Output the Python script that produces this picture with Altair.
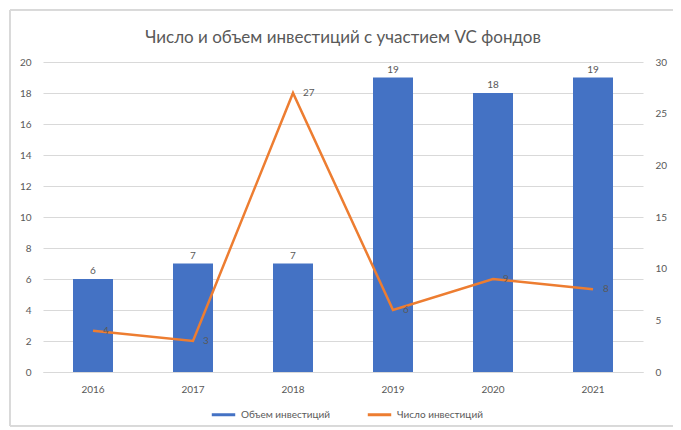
import altair as alt
import pandas as pd

years = ["2016", "2017", "2018", "2019", "2020", "2021"]
volume = [6, 7, 7, 19, 18, 19]
count = [4, 3, 27, 6, 9, 8]
vol_name = "Объем инвестиций"
cnt_name = "Число инвестиций"

df = pd.DataFrame({"year": years, "volume": volume, "count": count,
                   "s_vol": [vol_name] * len(years), "s_cnt": [cnt_name] * len(years)})

FONT = "Lato"
GRAY = "#595959"

x = alt.X("year:N", title=None, sort=years,
          scale=alt.Scale(paddingInner=0.6, paddingOuter=0.3),
          axis=alt.Axis(labelAngle=0, labelColor=GRAY, labelFont=FONT, labelFontSize=10,
                        ticks=False, domainColor="#d9d9d9", labelPadding=12))

cscale = alt.Scale(domain=[vol_name, cnt_name], range=["#4472C4", "#ED7D31"])
clegend = alt.Legend(orient="none", legendX=167, legendY=339, direction="horizontal",
                     symbolType="stroke", symbolSize=550, symbolStrokeWidth=3,
                     labelFont=FONT, labelFontSize=10, labelColor=GRAY,
                     columnPadding=30, symbolOpacity=1)

left_ticks = [0, 2, 4, 6, 8, 10, 12, 14, 16, 18, 20]
right_ticks = [0, 5, 10, 15, 20, 25, 30]

left_axis = alt.Axis(values=left_ticks, labelColor=GRAY, labelFont=FONT,
                     labelFontSize=10, ticks=False, domain=False, gridColor="#d9d9d9",
                     labelPadding=12, labelOverlap=False, labelFlush=False)
right_axis = alt.Axis(orient="right", values=right_ticks, labelColor=GRAY,
                      labelFont=FONT, labelFontSize=10, ticks=False, domain=False,
                      grid=False, labelPadding=12, labelOverlap=False, labelFlush=False)

lscale = alt.Scale(domain=[0, 20], nice=False)
rscale = alt.Scale(domain=[0, 30], nice=False)

base = alt.Chart(df)

frame = base.mark_rect(fill=None, stroke="#d9d9d9", strokeWidth=1).encode(
    x=alt.value(-33), x2=alt.value(635), y=alt.value(-52), y2=alt.value(364))

bars = base.mark_bar().encode(
    x=x,
    y=alt.Y("volume:Q", title=None, scale=lscale, axis=left_axis),
    color=alt.Color("s_vol:N", scale=cscale, legend=clegend, title=None),
)
bar_text = base.mark_text(dy=-8, color=GRAY, font=FONT, fontSize=10).encode(
    x=x, y=alt.Y("volume:Q", scale=lscale, axis=None), text="volume:Q")

line = base.mark_line(strokeWidth=2.5).encode(
    x=x,
    y=alt.Y("count:Q", title=None, scale=rscale, axis=right_axis),
    color=alt.Color("s_cnt:N", scale=cscale, legend=clegend, title=None),
)
line_text = base.mark_text(dx=10, align="left", color=GRAY, font=FONT, fontSize=10).encode(
    x=x, y=alt.Y("count:Q", scale=rscale, axis=None), text="count:Q")

chart = alt.layer(frame, bars, bar_text, line, line_text).resolve_scale(y="independent").properties(
    width=600, height=310,
    title=alt.TitleParams("Число и объем инвестиций с участием VC фондов", font=FONT,
                          fontSize=17, fontWeight="normal", color=GRAY, offset=-37),
    autosize=alt.AutoSizeParams(type="none"),
    padding={"left": 35, "top": 54, "right": 30, "bottom": 58},
).configure_view(stroke=None)

chart.save("out.html", embed_options={"renderer": "svg", "actions": False})
